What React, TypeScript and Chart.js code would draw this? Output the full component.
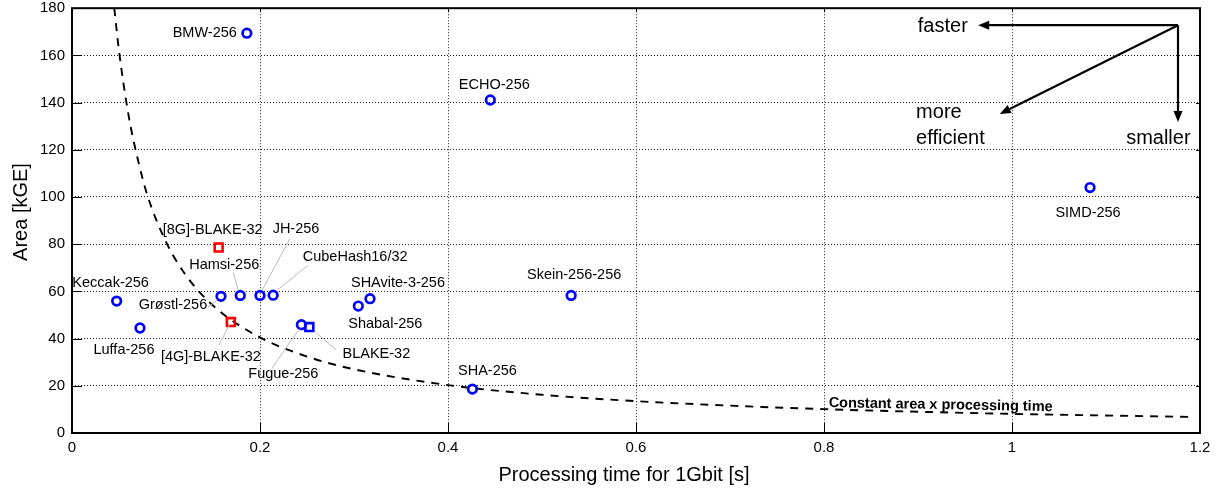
import { useEffect, useRef } from "react";
import { Chart, registerables } from "chart.js";

Chart.register(...registerables);

const FONT = "'Liberation Sans', Arial, Helvetica, sans-serif";

// ---- data ----
const circleNames = [
  "BMW-256", "ECHO-256", "SIMD-256", "Keccak-256", "Luffa-256", "Grøstl-256", "Hamsi-256",
  "JH-256", "CubeHash16/32", "Fugue-256", "Shabal-256", "SHAvite-3-256", "SHA-256", "Skein-256-256",
];
const circleTime = [0.186, 0.445, 1.083, 0.0475, 0.0723, 0.1585, 0.179, 0.2, 0.214, 0.244, 0.3046, 0.317, 0.426, 0.531];
const circleArea = [169.4, 141.1, 104.0, 55.9, 44.5, 57.9, 58.3, 58.3, 58.4, 45.9, 53.8, 56.9, 18.6, 58.3];

const blueSquareNames = ["BLAKE-32"];
const blueSquareTime = [0.2525];
const blueSquareArea = [44.9];

const redSquareNames = ["[8G]-BLAKE-32", "[4G]-BLAKE-32"];
const redSquareTime = [0.156, 0.169];
const redSquareArea = [78.6, 47.0];

const curveTime = [0.045, 0.05, 0.06, 0.07, 0.08, 0.1, 0.12, 0.15, 0.2, 0.25, 0.3, 0.4, 0.5, 0.6, 0.7, 0.8, 0.9, 1.0, 1.1, 1.19];
const curveArea = [180, 162, 135, 116, 101, 81, 67.5, 54, 40.5, 32.4, 27, 20.3, 16.2, 13.5, 11.6, 10.1, 9.0, 8.1, 7.4, 6.8];

const xTicks = [0, 0.2, 0.4, 0.6, 0.8, 1.0, 1.2];
const xTickLabels = ["0", "0.2", "0.4", "0.6", "0.8", "1", "1.2"];
const yTicks = [0, 20, 40, 60, 80, 100, 120, 140, 160, 180];
const yTickLabels = ["0", "20", "40", "60", "80", "100", "120", "140", "160", "180"];

const curveLabel = "Constant area x processing time";
const xTitle = "Processing time for 1Gbit [s]";
const yTitle = "Area [kGE]";

// arrow annotation anchor (data coords)
const arrowOrigin = [1.1766, 172.8];
const arrowFasterEnd = [0.964, 172.8];
const arrowSmallerEnd = [1.1766, 131.8];
const arrowEfficientEnd = [0.987, 135.2];

// ---- layout (pixel offsets for labels relative to their point) ----
type LabelLayout = { dx: number; dy: number; align?: CanvasTextAlign; leader?: [number, number, number, number] };
const labelLayout: Record<string, LabelLayout> = {
  "BMW-256": { dx: -10, dy: 0, align: "right" },
  "ECHO-256": { dx: 4, dy: -15 },
  "SIMD-256": { dx: -2, dy: 25 },
  "Keccak-256": { dx: -6, dy: -18 },
  "Luffa-256": { dx: -16, dy: 22 },
  "Grøstl-256": { dx: -48, dy: 9, leader: [-13, 11, -4, 4] },
  "Hamsi-256": { dx: -16, dy: -30, leader: [-7, -23, -2, -5] },
  "JH-256": { dx: 36, dy: -66, leader: [30, -57, 2, -5] },
  "CubeHash16/32": { dx: 82, dy: -38, leader: [35, -30, 4, -5] },
  "Fugue-256": { dx: -18, dy: 49, leader: [-29, 43, -2, 4] },
  "Shabal-256": { dx: 27, dy: 18 },
  "SHAvite-3-256": { dx: 28, dy: -16 },
  "SHA-256": { dx: 15, dy: -18 },
  "Skein-256-256": { dx: 3, dy: -20 },
  "BLAKE-32": { dx: 67, dy: 27, leader: [27, 23, 6, 5] },
  "[8G]-BLAKE-32": { dx: -6, dy: -18 },
  "[4G]-BLAKE-32": { dx: -20, dy: 35, leader: [-12, 23, -1, 2] },
};

const toXY = (xs: number[], ys: number[]) => xs.map((x, i) => ({ x, y: ys[i] }));

const annotPlugin = {
  id: "annot",
  afterDatasetsDraw(chart: any) {
    const { ctx, chartArea: ca, scales } = chart;
    const xs = scales.x, ys = scales.y;
    const px = (v: number) => xs.getPixelForValue(v);
    const py = (v: number) => ys.getPixelForValue(v);
    ctx.save();

    const groups: [string[], number[], number[]][] = [
      [circleNames, circleTime, circleArea],
      [blueSquareNames, blueSquareTime, blueSquareArea],
      [redSquareNames, redSquareTime, redSquareArea],
    ];
    // leaders
    ctx.strokeStyle = "#b8b8b8";
    ctx.lineWidth = 1;
    for (const [names, t, a] of groups) {
      names.forEach((n, i) => {
        const L = labelLayout[n];
        if (!L || !L.leader) return;
        const cx = px(t[i]), cy = py(a[i]);
        ctx.beginPath();
        ctx.moveTo(cx + L.leader[0], cy + L.leader[1]);
        ctx.lineTo(cx + L.leader[2], cy + L.leader[3]);
        ctx.stroke();
      });
    }
    // labels
    ctx.fillStyle = "#000";
    ctx.font = `14.5px ${FONT}`;
    ctx.textBaseline = "middle";
    for (const [names, t, a] of groups) {
      names.forEach((n, i) => {
        const L = labelLayout[n] || { dx: 0, dy: -16 };
        ctx.textAlign = L.align || "center";
        ctx.fillText(n, px(t[i]) + L.dx, py(a[i]) + L.dy);
      });
    }

    // curve label
    ctx.save();
    ctx.font = `bold 14.5px ${FONT}`;
    ctx.textAlign = "left";
    ctx.translate(px(0.805), py(12.7));
    ctx.rotate(0.018);
    ctx.fillText(curveLabel, 0, 0);
    ctx.restore();

    // arrows
    const arrow = (x1: number, y1: number, x2: number, y2: number) => {
      const ang = Math.atan2(y2 - y1, x2 - x1);
      const hl = 11, hw = 4.5;
      const bx = x2 - hl * Math.cos(ang), by = y2 - hl * Math.sin(ang);
      ctx.beginPath();
      ctx.moveTo(x1, y1);
      ctx.lineTo(bx, by);
      ctx.stroke();
      ctx.beginPath();
      ctx.moveTo(x2, y2);
      ctx.lineTo(bx + hw * Math.sin(ang), by - hw * Math.cos(ang));
      ctx.lineTo(bx - hw * Math.sin(ang), by + hw * Math.cos(ang));
      ctx.closePath();
      ctx.fill();
    };
    ctx.strokeStyle = "#000";
    ctx.fillStyle = "#000";
    ctx.lineWidth = 2.2;
    const ox = px(arrowOrigin[0]), oy = py(arrowOrigin[1]);
    arrow(ox, oy, px(arrowFasterEnd[0]), py(arrowFasterEnd[1]));
    arrow(ox, oy, px(arrowSmallerEnd[0]), py(arrowSmallerEnd[1]));
    arrow(ox, oy, px(arrowEfficientEnd[0]), py(arrowEfficientEnd[1]));

    ctx.font = `20px ${FONT}`;
    ctx.textBaseline = "middle";
    ctx.textAlign = "right";
    ctx.fillText("faster", px(0.953), py(172.4));
    ctx.textAlign = "left";
    ctx.fillText("more", px(0.898), py(135.6));
    ctx.fillText("efficient", px(0.898), py(124.6));
    ctx.textAlign = "right";
    ctx.fillText("smaller", px(1.19), py(124.6));

    // frame + inward ticks
    ctx.lineWidth = 2;
    ctx.strokeStyle = "#000";
    ctx.strokeRect(ca.left, ca.top, ca.right - ca.left, ca.bottom - ca.top);
    ctx.lineWidth = 1;
    ctx.beginPath();
    xTicks.forEach((v) => {
      const X = Math.round(px(v)) + 0.5;
      ctx.moveTo(X, ca.bottom);
      ctx.lineTo(X, ca.bottom - 10);
      ctx.moveTo(X, ca.top);
      ctx.lineTo(X, ca.top + 4);
    });
    yTicks.forEach((v) => {
      const Y = Math.round(py(v)) + 0.5;
      ctx.moveTo(ca.left, Y);
      ctx.lineTo(ca.left + 10, Y);
      ctx.moveTo(ca.right, Y);
      ctx.lineTo(ca.right - 4, Y);
    });
    ctx.stroke();

    // axis titles
    ctx.fillStyle = "#000";
    ctx.font = `20px ${FONT}`;
    ctx.textAlign = "center";
    ctx.textBaseline = "middle";
    ctx.fillText(xTitle, (ca.left + ca.right) / 2 - 12, 475);
    ctx.save();
    ctx.translate(21, 212);
    ctx.rotate(-Math.PI / 2);
    ctx.fillText(yTitle, 0, 0);
    ctx.restore();

    ctx.restore();
  },
};

export default function App() {
  const ref = useRef<HTMLCanvasElement | null>(null);
  useEffect(() => {
    document.body.style.margin = "0";
    if (!ref.current) return;
    const chart = new Chart(ref.current, {
      type: "scatter",
      data: {
        datasets: [
          {
            type: "line",
            label: "curve",
            data: toXY(curveTime, curveArea),
            borderColor: "#000",
            borderWidth: 1.9,
            borderDash: [8, 7],
            pointRadius: 0,
            showLine: true,
            fill: false,
            cubicInterpolationMode: "monotone",
            order: 5,
          } as any,
          {
            label: "circles",
            data: toXY(circleTime, circleArea),
            pointStyle: "circle",
            pointRadius: 4.3,
            pointBorderWidth: 2.7,
            borderColor: "#0000ff",
            backgroundColor: "rgba(0,0,0,0)",
            pointHoverRadius: 4.3,
          },
          {
            label: "blueSquares",
            data: toXY(blueSquareTime, blueSquareArea),
            pointStyle: "rect",
            pointRadius: 5.6,
            pointBorderWidth: 2.6,
            borderColor: "#0000ff",
            backgroundColor: "rgba(0,0,0,0)",
          },
          {
            label: "redSquares",
            data: toXY(redSquareTime, redSquareArea),
            pointStyle: "rect",
            pointRadius: 5.6,
            pointBorderWidth: 2.6,
            borderColor: "#ff0000",
            backgroundColor: "rgba(0,0,0,0)",
          },
        ],
      },
      options: {
        responsive: false,
        animation: false,
        events: [],
        layout: { padding: { top: 7, right: 25, left: 0, bottom: 0 } },
        plugins: { legend: { display: false }, tooltip: { enabled: false } },
        scales: {
          x: {
            type: "linear",
            min: 0,
            max: 1.2,
            afterBuildTicks: (s: any) => {
              s.ticks = xTicks.map((v) => ({ value: v }));
            },
            afterFit: (s: any) => {
              s.height = 56;
              s.paddingLeft = 0;
              s.paddingRight = 0;
            },
            ticks: {
              callback: (_v: any, i: number) => xTickLabels[i],
              font: { family: FONT, size: 15 },
              color: "#000",
              padding: 6,
              maxRotation: 0,
              autoSkip: false,
            },
            grid: { color: "#222", lineWidth: 1, drawTicks: false },
            border: { display: false, dash: [1, 2] },
          },
          y: {
            type: "linear",
            min: 0,
            max: 180,
            afterBuildTicks: (s: any) => {
              s.ticks = yTicks.map((v) => ({ value: v }));
            },
            afterFit: (s: any) => {
              s.width = 72;
              s.paddingTop = 0;
              s.paddingBottom = 0;
            },
            ticks: {
              callback: (_v: any, i: number) => yTickLabels[i],
              font: { family: FONT, size: 15 },
              color: "#000",
              padding: 7,
              autoSkip: false,
            },
            grid: { color: "#222", lineWidth: 1, drawTicks: false },
            border: { display: false, dash: [1, 2] },
          },
        },
      },
      plugins: [annotPlugin],
    });
    return () => chart.destroy();
  }, []);
  return (
    <div style={{ width: 1225, height: 489 }}>
      <canvas ref={ref} width={1225} height={489} style={{ display: "block" }} />
    </div>
  );
}
